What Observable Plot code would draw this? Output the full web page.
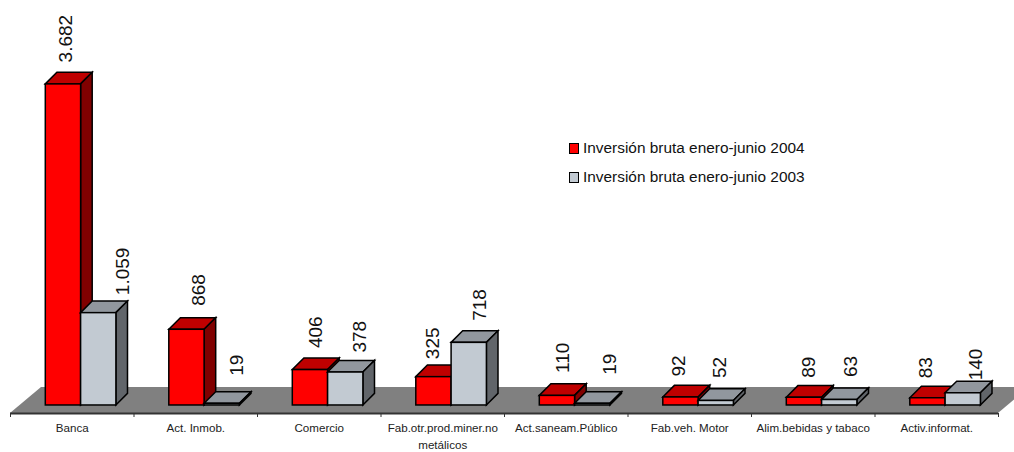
<!DOCTYPE html>
<html>
<head>
<meta charset="utf-8">
<script src="https://cdn.jsdelivr.net/npm/d3@7"></script>
<script src="https://cdn.jsdelivr.net/npm/@observablehq/plot@0.6"></script>
<style>
  html, body { margin: 0; padding: 0; background: #fff; overflow: hidden; }
  #wrap { position: relative; width: 1014px; height: 452px; font-family: "Liberation Sans", Arial, sans-serif; }
  .leg { position: absolute; left: 569px; font-size: 15.4px; color: #111; white-space: nowrap; line-height: 16px; }
  .leg i { display: inline-block; width: 8px; height: 9px; border: 1.5px solid #000; margin-right: 4px; vertical-align: -1px; }
</style>
</head>
<body>
<div id="wrap"></div>
<script>
const categories = ["Banca", "Act. Inmob.", "Comercio", "Fab.otr.prod.miner.no\nmetálicos", "Act.saneam.Público", "Fab.veh. Motor", "Alim.bebidas y tabaco", "Activ.informat."];
const inv2004 = [3682, 868, 406, 325, 110, 92, 89, 83];
const inv2003 = [1059, 19, 378, 718, 19, 52, 63, 140];
const labels2004 = ["3.682", "868", "406", "325", "110", "92", "89", "83"];
const labels2003 = ["1.059", "19", "378", "718", "19", "52", "63", "140"];
const legendNames = ["Inversión bruta enero-junio 2004", "Inversión bruta enero-junio 2003"];

// hand-placed data label nudges, as in the source chart [dx, gap above bar]
const nudge2004 = [[2, 22], [12, 24], [5, 22], [-1, 18], [5, 23], [-2, 21], [4, 20], [-2, 20]];
const nudge2003 = [[24, 18], [15, 28], [14, 20], [11, 22], [17, 29], [4, 23], [11, 23], [13, 13]];

const DEPTH = 11.6, BAND = 123.5, BAR = 35.3;
const ns = "http://www.w3.org/2000/svg";

function box3d(topFill, sideFill) {
  return (index, scales, values, dims, ctx, next) => {
    const g = next(index, scales, values, dims, ctx);
    for (const r of [...g.querySelectorAll("rect")]) {
      const x = +r.getAttribute("x"), y = +r.getAttribute("y"),
            w = +r.getAttribute("width"), h = +r.getAttribute("height");
      const add = (pts, fill) => {
        const p = document.createElementNS(ns, "polygon");
        p.setAttribute("points", pts.map(q => q.join(",")).join(" "));
        p.setAttribute("fill", fill);
        r.parentNode.insertBefore(p, r);
      };
      add([[x, y], [x + DEPTH, y - DEPTH], [x + w + DEPTH, y - DEPTH], [x + w, y]], topFill);
      add([[x + w, y], [x + w + DEPTH, y - DEPTH], [x + w + DEPTH, y + h - DEPTH], [x + w, y + h]], sideFill);
    }
    return g;
  };
}

function floor(index, {x, y}, channels, {width, marginLeft, marginRight}) {
  const p = document.createElementNS(ns, "polygon");
  const yf = y(-92), yb = y(207), l = marginLeft, r = width - marginRight;
  p.setAttribute("points", [[l, yf], [l + 31, yb], [r + 31, yb], [r, yf]].map(q => q.join(",")).join(" "));
  p.setAttribute("fill", "#808080");
  return p;
}

const table = categories.map((c, i) => ({c, a: inv2004[i], b: inv2003[i]}));
const labelMark = (cat, val, text, inset, [dx, gap]) =>
  Plot.text([{cat, val, text}], {
    x: "cat", y: "val", text: "text", rotate: -90, textAnchor: "start", lineAnchor: "middle",
    dx: inset + dx, dy: -gap, fontSize: 19, fill: "#111"
  });

const plot = Plot.plot({
  width: 1014, height: 452,
  marginLeft: 10, marginRight: 16, marginTop: 0, marginBottom: 39,
  style: {fontFamily: "'Liberation Sans', Arial, sans-serif", overflow: "hidden", background: "#fff"},
  x: {type: "band", domain: categories, padding: 0, round: false, label: null},
  y: {domain: [-92, 4644], axis: null, label: null},
  marks: [
    floor,
    Plot.ruleY([-92], {stroke: "#333", strokeWidth: 2}),
    Plot.ruleX(categories, {x: d => d, dx: -BAND / 2, y1: -92, y2: -138, stroke: "#333"}),
    Plot.ruleX(categories.slice(-1), {x: d => d, dx: BAND / 2, y1: -92, y2: -138, stroke: "#333"}),
    Plot.axisX({tickSize: 0, tickPadding: 6, fontSize: 11.6, lineHeight: 1.5, fill: "#222", label: null, lineAnchor: "top"}),
    Plot.barY(table, {x: "c", y: "a", fill: "#ff0000", stroke: "#000", strokeWidth: 1.5,
      insetLeft: BAR, insetRight: BAND - 2 * BAR, render: box3d("#bf0000", "#800000")}),
    Plot.barY(table, {x: "c", y: "b", fill: "#c2cad2", stroke: "#000", strokeWidth: 1.5,
      insetLeft: 2 * BAR, insetRight: BAND - 3 * BAR, render: box3d("#91979e", "#61656a")}),
    ...categories.map((c, i) => labelMark(c, inv2004[i], labels2004[i], -BAND / 2 + 1.5 * BAR, nudge2004[i])),
    ...categories.map((c, i) => labelMark(c, inv2003[i], labels2003[i], -BAND / 2 + 2.5 * BAR, nudge2003[i]))
  ]
});

const wrap = document.getElementById("wrap");
wrap.appendChild(plot);
[["#ff0000", 140], ["#c2cad2", 169]].forEach(([col, top], i) => {
  const d = document.createElement("div");
  d.className = "leg";
  d.style.top = top + "px";
  const sw = document.createElement("i");
  sw.style.background = col;
  d.appendChild(sw);
  d.appendChild(document.createTextNode(legendNames[i]));
  wrap.appendChild(d);
});
</script>
</body>
</html>
